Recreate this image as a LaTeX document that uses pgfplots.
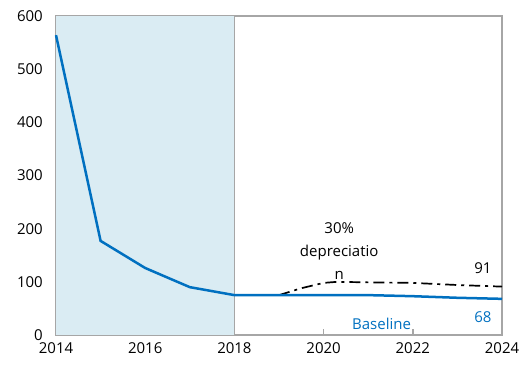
\documentclass[border=0pt]{standalone}
\usepackage{pgfplots}
\pgfplotsset{compat=1.18}
\usepackage{fontspec}
\setmainfont{Open Sans}
\definecolor{lineblue}{RGB}{0,112,192}
\definecolor{shade}{RGB}{218,236,243}
\definecolor{framegrey}{RGB}{166,166,166}
\begin{document}
\fontsize{15pt}{18pt}\selectfont
\begin{tikzpicture}
\begin{axis}[
  scale only axis,
  width=446pt, height=319pt,
  xmin=2014, xmax=2024, ymin=0, ymax=600,
  xtick={2014,2016,...,2024},
  ytick={0,100,...,600},
  xticklabel style={/pgf/number format/1000 sep={}},
  /pgf/number format/assume math mode=true,
  tick label style={font=\fontsize{15pt}{18pt}\selectfont},
  yticklabel style={xshift=-8pt},
  xticklabel style={yshift=-2pt},
  tick align=inside,
  xtick pos=bottom, ytick pos=left,
  major tick length=6pt,
  axis line style={framegrey, line width=1.8pt},
  every tick/.style={framegrey, line width=1.4pt},
  clip=false,
]
\addplot[fill=shade, draw=none] coordinates {(2014,0) (2014,600) (2018,600) (2018,0)} -- cycle;
\addplot[framegrey, line width=1.4pt] coordinates {(2018,0) (2018,600)};
\addplot[black, line width=1.7pt, dash pattern=on 11pt off 5pt on 3pt off 5pt] coordinates {
(2019,75) (2019.5,88) (2020,98) (2020.3,100) (2021,99) (2022,98) (2023,94) (2024,91)};
\addplot[lineblue, line width=2.5pt] coordinates {
(2014,564) (2015,177) (2016,126) (2017,90) (2018,75) (2019,75) (2020,75) (2021,75) (2022,73) (2023,70) (2024,68)};
\node[align=center, font=\fontsize{15pt}{23pt}\selectfont] at (axis cs:2020.35,157) {30\%\\depreciatio\\n};
\node[font=\fontsize{15pt}{18pt}\selectfont] at (axis cs:2023.57,126) {91};
\node[lineblue, font=\fontsize{15pt}{18pt}\selectfont] at (axis cs:2023.57,34) {68};
\node[lineblue, font=\fontsize{15pt}{18pt}\selectfont] at (axis cs:2021.3,20) {Baseline};
\end{axis}
\useasboundingbox (-56pt,-34pt) rectangle (473pt,335pt);
\end{tikzpicture}
\end{document}
